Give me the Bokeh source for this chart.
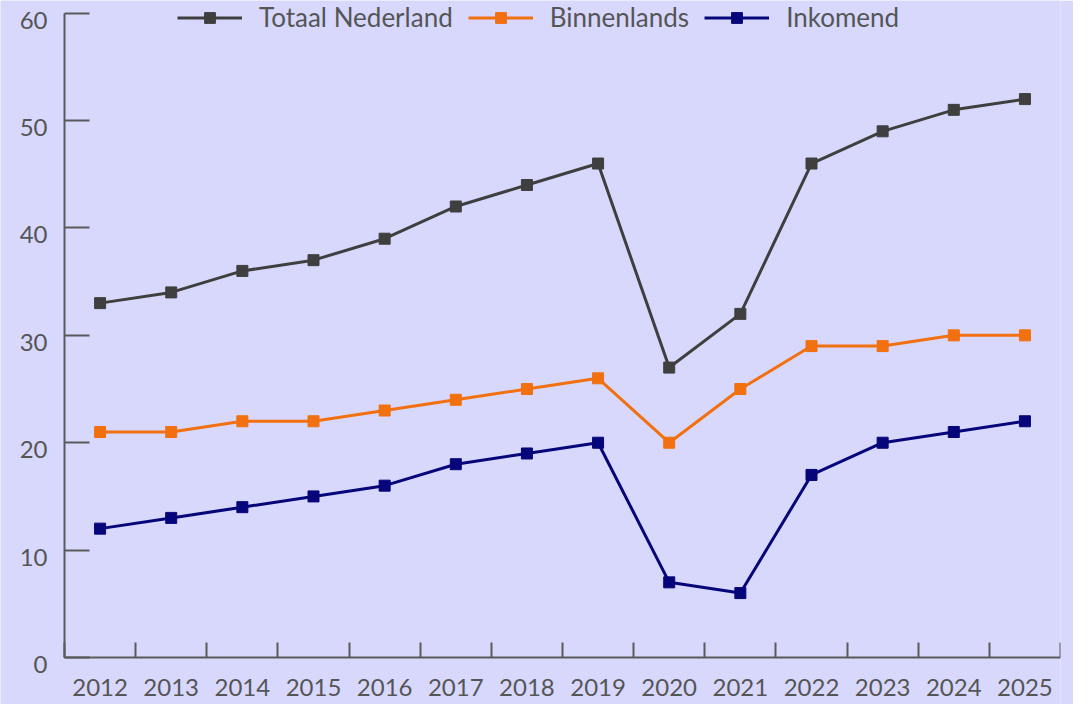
from bokeh.plotting import figure
from bokeh.models import Range1d, FixedTicker, Legend, LabelSet, ColumnDataSource, LinearAxis
from bokeh.core.properties import value
from bokeh.embed import file_html
from bokeh.resources import INLINE

years = ["2012", "2013", "2014", "2015", "2016", "2017", "2018",
         "2019", "2020", "2021", "2022", "2023", "2024", "2025"]
totaal = [33, 34, 36, 37, 39, 42, 44, 46, 27, 32, 46, 49, 51, 52]
binnenlands = [21, 21, 22, 22, 23, 24, 25, 26, 20, 25, 29, 29, 30, 30]
inkomend = [12, 13, 14, 15, 16, 18, 19, 20, 7, 6, 17, 20, 21, 22]
y_ticks = [0, 10, 20, 30, 40, 50, 60]
y_tick_labels = ["0", "10", "20", "30", "40", "50", "60"]

series = [
    ("Totaal Nederland", totaal, "#3f3f3f"),
    ("Binnenlands", binnenlands, "#f2700f"),
    ("Inkomend", inkomend, "#06067a"),
]

BG = "#d8d8fd"
AX = "#5a5a5a"
TXT = "#555555"
FONT = "Lato"

n = len(years)
xs = [i + 0.5 for i in range(n)]

# the frame covers the whole canvas except a thin right border, so that the
# legend and all axis labels sit inside it; axes are placed at data 0
W, H = 1073, 704
left_px, right_border, bottom_px, top_px = 64, 13, 47, 12.7
frame_w = W - right_border
frame_h = H
x_unit = (frame_w - left_px) / n
y_unit = (frame_h - bottom_px - top_px) / 60.0
x_start = -left_px / x_unit
y_start = -bottom_px / y_unit
y_end = 60 + top_px / y_unit

p = figure(width=W, height=H, output_backend="svg", toolbar_location=None,
           x_range=Range1d(x_start, n), y_range=Range1d(y_start, y_end),
           x_axis_location=None, y_axis_location=None,
           min_border_left=0, min_border_right=right_border, min_border_top=0,
           min_border_bottom=0)
p.background_fill_color = BG
p.border_fill_color = BG
p.outline_line_color = None
p.xgrid.visible = False
p.ygrid.visible = False

items = []
for name, vals, col in series:
    r1 = p.line(xs, vals, line_color=col, line_width=3)
    r2 = p.scatter(xs, vals, marker="square", size=11, fill_color=col, line_color=col)
    items.append((name, [r1, r2]))

legend = Legend(items=items, orientation="horizontal", location=(177, frame_h - 33),
                glyph_width=65, glyph_height=27, label_standoff=17, spacing=15,
                padding=0, margin=0, background_fill_alpha=0, border_line_alpha=0,
                label_text_font=FONT, label_text_font_size="26px",
                label_text_color=TXT)
p.add_layout(legend)

xa = LinearAxis(fixed_location=0, bounds=(0, n))
xa.ticker = FixedTicker(ticks=xs, minor_ticks=list(range(0, n + 1)))
xa.major_label_overrides = {x: y for x, y in zip(xs, years)}
xa.major_tick_in = 0
xa.major_tick_out = 0
xa.minor_tick_in = 15
xa.minor_tick_out = 0
xa.minor_tick_line_color = AX
xa.minor_tick_line_width = 2
xa.axis_line_color = AX
xa.axis_line_width = 2
xa.major_label_text_font = FONT
xa.major_label_text_font_size = "24px"
xa.major_label_text_color = TXT
xa.major_label_standoff = 21
p.add_layout(xa, "below")

ya = LinearAxis(fixed_location=0, bounds=(0, 60))
ya.ticker = FixedTicker(ticks=y_ticks)
ya.major_label_overrides = {t: "" for t in y_ticks}
ya.major_tick_in = 25
ya.major_tick_out = 0
ya.minor_tick_line_color = None
ya.major_tick_line_color = AX
ya.major_tick_line_width = 2
ya.axis_line_color = AX
ya.axis_line_width = 2
ya.major_label_standoff = 0
p.add_layout(ya, "left")

ysrc = ColumnDataSource(dict(x=[0] * len(y_ticks), y=y_ticks, t=y_tick_labels))
ylabels = LabelSet(x="x", y="y", text="t", source=ysrc, x_offset=-17, y_offset=-7,
                   text_align="right", text_baseline="middle",
                   text_font=value(FONT), text_font_size=value("24px"),
                   text_color=TXT)
p.add_layout(ylabels)

open("out.html", "w").write(file_html(p, INLINE))
